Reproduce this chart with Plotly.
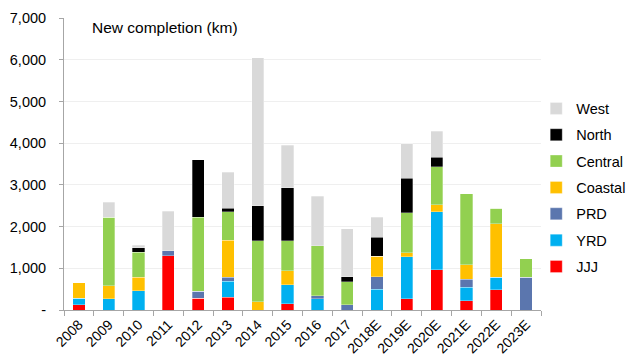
import plotly.graph_objects as go

years = ["2008", "2009", "2010", "2011", "2012", "2013", "2014", "2015", "2016", "2017",
         "2018E", "2019E", "2020E", "2021E", "2022E", "2023E"]

jjj     = [120,   0,   0, 1300, 280, 300,    0,  150,    0,    0,   0,  265,  970,  225,  490,   0]
yrd     = [160, 270, 460,    0,   0, 390,    0,  450,  265,    0, 500, 1015, 1390,  320,  300,   0]
prd     = [0,     0,   0,  120, 175, 100,    0,    0,   80,  130, 295,    0,    0,  190,    0, 785]
coastal = [370, 310, 320,    0,   0, 880,  200,  345,    0,    0, 495,   95,  160,  345, 1280,   0]
central = [0,  1640, 600,    0, 1770, 680, 1465, 720, 1190,  550,   0,  960,  920, 1710,  375, 440]
north   = [0,     0, 110,    0, 1375,  95,  840, 1265,   0,  120, 455,  825,  225,    0,    0,   0]
west    = [0,   365,  65,  945,    0, 855, 3545, 1025, 1190, 1145, 480,  825,  615,    0,    0,   0]

series = [
    ("JJJ", jjj, "#FF0000"),
    ("YRD", yrd, "#00B0F0"),
    ("PRD", prd, "#5B76AE"),
    ("Coastal", coastal, "#FFC000"),
    ("Central", central, "#92D050"),
    ("North", north, "#000000"),
    ("West", west, "#D9D9D9"),
]

y_ticks = [0, 1000, 2000, 3000, 4000, 5000, 6000, 7000]
y_ticktext = ["-", "1,000", "2,000", "3,000", "4,000", "5,000", "6,000", "7,000"]

fig = go.Figure()
n = len(series)
for i, (name, vals, color) in enumerate(series):
    fig.add_trace(go.Bar(
        x=years, y=vals, name=name, legendgroup=name, legendrank=n - i,
        marker=dict(color=color, line=dict(color="rgba(255,255,255,0.6)", width=0.5)),
    ))

fig.update_layout(
    barmode="stack",
    bargap=0.59,
    width=628, height=357,
    margin=dict(l=64, r=87, t=18, b=47, autoexpand=False),
    paper_bgcolor="white",
    plot_bgcolor="white",
    font=dict(family="Liberation Sans, Arial, sans-serif", size=14, color="#000000"),
    showlegend=True,
    legend=dict(
        traceorder="grouped",
        x=0.99, y=0.745, xanchor="left", yanchor="top",
        font=dict(size=14.5),
        itemwidth=30,
        tracegroupgap=4.5,
        bgcolor="rgba(0,0,0,0)",
    ),
    annotations=[dict(
        text="New completion (km)", xref="paper", yref="paper",
        x=0.055, y=1.005, xanchor="left", yanchor="top",
        showarrow=False, font=dict(size=15.5),
    )],
)

fig.update_xaxes(
    type="category",
    showline=True, linecolor="#A6A6A6", linewidth=1,
    ticks="outside", tickson="boundaries", ticklen=5, tickcolor="#A6A6A6",
    tickangle=-45, tickfont=dict(size=14),
    showgrid=False,
)
fig.update_yaxes(
    range=[0, 7000],
    tickvals=y_ticks, ticktext=y_ticktext,
    showline=True, linecolor="#A6A6A6", linewidth=1,
    ticks="outside", ticklen=4, tickcolor="#A6A6A6",
    ticklabelstandoff=10,
    showgrid=True, gridcolor="#EFEFEF", gridwidth=1,
    zeroline=False,
    tickfont=dict(size=14.5),
)

fig.write_html("out.html")
